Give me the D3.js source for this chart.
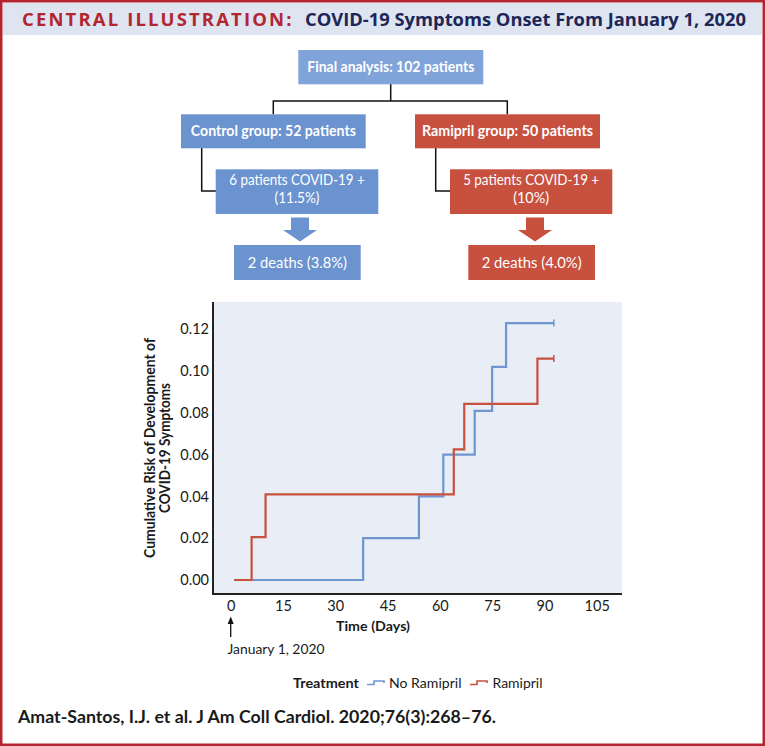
<!DOCTYPE html>
<html><head><meta charset="utf-8">
<script src="https://cdn.jsdelivr.net/npm/d3@7"></script>
<style>
html,body{margin:0;padding:0;background:#fff;}
svg{display:block;font-family:"Open Sans","Noto Sans",sans-serif;}
</style></head>
<body>
<svg id="chart" width="765" height="746"></svg>
<script>
// ---- data ----
const blueTimes = [1, 38, 54, 61, 70, 75, 79];
const blueRisk  = [0, 0.020, 0.040, 0.060, 0.081, 0.102, 0.123];
const redTimes  = [1, 6, 10, 64, 67, 88];
const redRisk   = [0, 0.0205, 0.041, 0.0625, 0.0843, 0.106];
const endTime   = 92.7;
const xTicks = [0, 15, 30, 45, 60, 75, 90, 105];
const yTicks = [0, 0.02, 0.04, 0.06, 0.08, 0.10, 0.12];
const seriesNames = ["No Ramipril", "Ramipril"];

const svg = d3.select("#chart");
const BLUE = "#6f96d0", RED = "#c8503f", BOXBLUE = "#6a93d0";

// frame
svg.append("rect").attr("x",0).attr("y",0).attr("width",765).attr("height",746).attr("fill","#fff");
svg.append("rect").attr("x",3).attr("y",3).attr("width",759).attr("height",32).attr("fill","#dfe4f1");
svg.append("rect").attr("x",1.25).attr("y",1.25).attr("width",762.5).attr("height",743.5)
  .attr("fill","none").attr("stroke","#b3262f").attr("stroke-width",2.5);

function txt(x0,y0,t,opt){
  const e = svg.append("text").attr("x",x0).attr("y",y0).text(t)
    .attr("font-size",opt.size||14).attr("font-weight",opt.bold?700:400)
    .attr("fill",opt.fill||"#1a1a1a");
  if(opt.anchor) e.attr("text-anchor",opt.anchor);
  if(opt.len) e.attr("textLength",opt.len).attr("lengthAdjust","spacingAndGlyphs");
  if(opt.family) e.attr("font-family",opt.family);
  return e;
}

// header
txt(22,26,"CENTRAL ILLUSTRATION:",{size:18.5,bold:true,fill:"#b3262f",len:271}).attr("letter-spacing",1.5).attr("lengthAdjust","spacing");
txt(305,26,"COVID-19 Symptoms Onset From January 1, 2020",{size:18.5,bold:true,fill:"#1c2757",len:441});

// ---- flowchart ----
const conn = svg.append("g").attr("fill","none").attr("stroke","#111").attr("stroke-width",1.5);
conn.append("path").attr("d","M390.7,84 V101 H273.3 V114.3 M273.3,101 H507.3 V114.3");
conn.append("path").attr("d","M201.7,148 V191 H216");
conn.append("path").attr("d","M435.7,148 V191 H450");

function box(x0,y0,x1,y1,fill,lines,bold){
  svg.append("rect").attr("x",x0).attr("y",y0).attr("width",x1-x0).attr("height",y1-y0).attr("fill",fill);
  const cx=(x0+x1)/2;
  lines.forEach(l=>{
    txt(cx,l.b,l.t,{size:15.5,bold:bold,fill:"#fff",anchor:"middle",len:l.w,family:"Lato, sans-serif"});
  });
}
box(298.3,50,483.3,84.3,"#80a4da",[{t:"Final analysis: 102 patients",b:72,w:167}],true);
box(181,114.3,365.7,148.3,BOXBLUE,[{t:"Control group: 52 patients",b:136,w:165}],true);
box(415,114.3,600,148.3,RED,[{t:"Ramipril group: 50 patients",b:136,w:171}],true);
box(215.7,169.3,378.3,214,BOXBLUE,[{t:"6 patients COVID-19 +",b:184.5,w:135.5},{t:"(11.5%)",b:203,w:45}],false);
box(450,169.3,612.3,214,RED,[{t:"5 patients COVID-19 +",b:184.5,w:136},{t:"(10%)",b:203,w:36}],false);
box(234,245,360.7,280,BOXBLUE,[{t:"2 deaths (3.8%)",b:267.5,w:99}],false);
box(468.3,245,595,280,RED,[{t:"2 deaths (4.0%)",b:267.5,w:100}],false);

function arrow(cx,fill){
  svg.append("path").attr("fill",fill)
    .attr("d",`M${cx-9},217.5 H${cx+9} V230 H${cx+17} L${cx},241.5 L${cx-17},230 H${cx-9} Z`);
}
arrow(300,BOXBLUE);
arrow(535,RED);

// ---- KM plot ----
const x = d3.scaleLinear().domain([0,105]).range([230.7,596.7]);
const y = d3.scaleLinear().domain([0,0.12]).range([580,329.3]);
const pL=213, pR=622, pT=302, pB=594;

svg.append("rect").attr("x",pL).attr("y",pT).attr("width",pR-pL).attr("height",pB-pT).attr("fill","#e9edf6");

// axes
const xAxis = d3.axisBottom(x).tickValues(xTicks).tickSize(0).tickPadding(7);
const gx = svg.append("g").attr("transform",`translate(0,${pB})`).call(xAxis);
gx.select(".domain").remove();
gx.selectAll("text").attr("font-size",14.5).attr("fill","#1a1a1a").attr("font-family","Lato, sans-serif");

const yAxis = d3.axisLeft(y).tickValues(yTicks).tickFormat(d3.format(".2f")).tickSize(0).tickPadding(4);
const gy = svg.append("g").attr("transform",`translate(${pL},0)`).call(yAxis);
gy.select(".domain").remove();
gy.selectAll("text").attr("font-size",14.5).attr("fill","#1a1a1a").attr("font-family","Lato, sans-serif");

svg.append("path").attr("d",`M${pL},${pT} V${pB} H${pR}`).attr("fill","none").attr("stroke","#222").attr("stroke-width",2);

// steps
function stepPath(times, vals){
  const pts = times.map((t,i)=>[t,vals[i]]);
  pts.push([endTime, vals[vals.length-1]]);
  return d3.line().x(d=>x(d[0])).y(d=>y(d[1])).curve(d3.curveStepAfter)(pts);
}
[[blueTimes,blueRisk,BLUE],[redTimes,redRisk,RED]].forEach(([t,v,c])=>{
  svg.append("path").attr("d",stepPath(t,v)).attr("fill","none").attr("stroke",c).attr("stroke-width",2.2);
  const yy=y(v[v.length-1]), xx=x(endTime);
  svg.append("path").attr("d",`M${xx},${yy-3.5} V${yy+3.5}`).attr("stroke",c).attr("stroke-width",1.5);
});

// axis titles
txt(373,631,"Time (Days)",{size:14,bold:true,anchor:"middle",len:74,family:"Lato, sans-serif"});
svg.append("text").attr("transform","translate(155,448) rotate(-90)").attr("text-anchor","middle")
  .attr("font-size",14.5).attr("font-weight",700).attr("fill","#1a1a1a").attr("font-family","Lato, sans-serif")
  .attr("textLength",220).attr("lengthAdjust","spacingAndGlyphs").text("Cumulative Risk of Development of");
svg.append("text").attr("transform","translate(170,448) rotate(-90)").attr("text-anchor","middle")
  .attr("font-size",14.5).attr("font-weight",700).attr("fill","#1a1a1a").attr("font-family","Lato, sans-serif")
  .attr("textLength",130).attr("lengthAdjust","spacingAndGlyphs").text("COVID-19 Symptoms");

// Jan 1 arrow
svg.append("path").attr("d",`M${x(0)},637 V622`).attr("stroke","#111").attr("stroke-width",1.3);
svg.append("path").attr("d",`M${x(0)-3},624 L${x(0)},616.5 L${x(0)+3},624 Z`).attr("fill","#111");
txt(227.5,653.5,"January 1, 2020",{size:14,len:97,family:"Lato, sans-serif"});

// legend
txt(293,687.5,"Treatment",{size:14,bold:true,len:66,family:"Lato, sans-serif"});
const legendItems = [{name:seriesNames[0],c:BLUE,x0:367,tx:389,w:72.5},{name:seriesNames[1],c:RED,x0:470,tx:492.5,w:50}];
legendItems.forEach(d=>{
  svg.append("path").attr("d",`M${d.x0},684.5 H${d.x0+7} V681 H${d.x0+17} V683`).attr("fill","none").attr("stroke",d.c).attr("stroke-width",1.6);
  txt(d.tx,687.5,d.name,{size:14,len:d.w,family:"Lato, sans-serif"});
});

// footer
txt(18,723,"Amat-Santos, I.J. et al. J Am Coll Cardiol. 2020;76(3):268–76.",{size:16.5,bold:true,len:478,family:"Lato, sans-serif"});
</script>
</body></html>
